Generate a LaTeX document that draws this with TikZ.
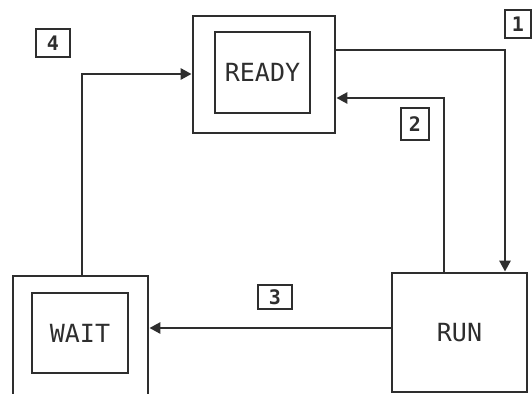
\documentclass[tikz,border=0pt]{standalone}
\usepackage{fontspec}
\setmainfont{DejaVu Sans}
\newfontfamily\stfont{DejaVu Sans Mono}
\usetikzlibrary{arrows.meta}
\definecolor{ink}{HTML}{2E2E2E}
\begin{document}
\begin{tikzpicture}[x=1pt,y=-1pt,
  line width=2.8pt, draw=ink, text=ink,
  box/.style={draw=ink, rectangle, inner sep=0pt, line width=2.8pt},
  lbl/.style={draw=ink, rectangle, inner sep=0pt, line width=2.6pt, font=\fontsize{20}{20}\stfont\bfseries},
  st/.style={font=\fontsize{25}{25}\stfont},
  arr/.style={draw=ink, line width=2.8pt, -{Triangle[length=11pt,width=11pt]}}]
\useasboundingbox (0,0) rectangle (532,393);
\clip (0,0) rectangle (532,393);
% state boxes
\node[box, minimum width=142pt, minimum height=117pt] (ready) at (264,74.5) {};
\node[box, st, minimum width=95pt, minimum height=81pt] (readyin) at (262.5,72.5) {READY};
\node[box, minimum width=135pt, minimum height=132pt] (wait) at (80.5,342) {};
\node[box, st, minimum width=96pt, minimum height=80pt] (waitin) at (80,333) {WAIT};
\node[box, st, minimum width=135pt, minimum height=119pt] (run) at (459.5,332.5) {RUN};
% connectors
\draw[arr] (ready.east |- 0,50) -| (run.north -| 505,0);
\draw[arr] (run.north -| 444,0) |- (ready.east |- 0,98);
\draw[arr] (run.west |- 0,328) -- (wait.east |- 0,328);
\draw[arr] (wait.north -| 82,0) |- (ready.west |- 0,74);
% labels
\node[lbl, minimum width=26pt, minimum height=28pt] (l1) at (518,24) {1};
\node[lbl, minimum width=28pt, minimum height=32pt] (l2) at (415,124) {2};
\node[lbl, minimum width=34pt, minimum height=24pt] (l3) at (275,297) {3};
\node[lbl, minimum width=34pt, minimum height=28pt] (l4) at (53,43) {4};
\end{tikzpicture}
\end{document}
